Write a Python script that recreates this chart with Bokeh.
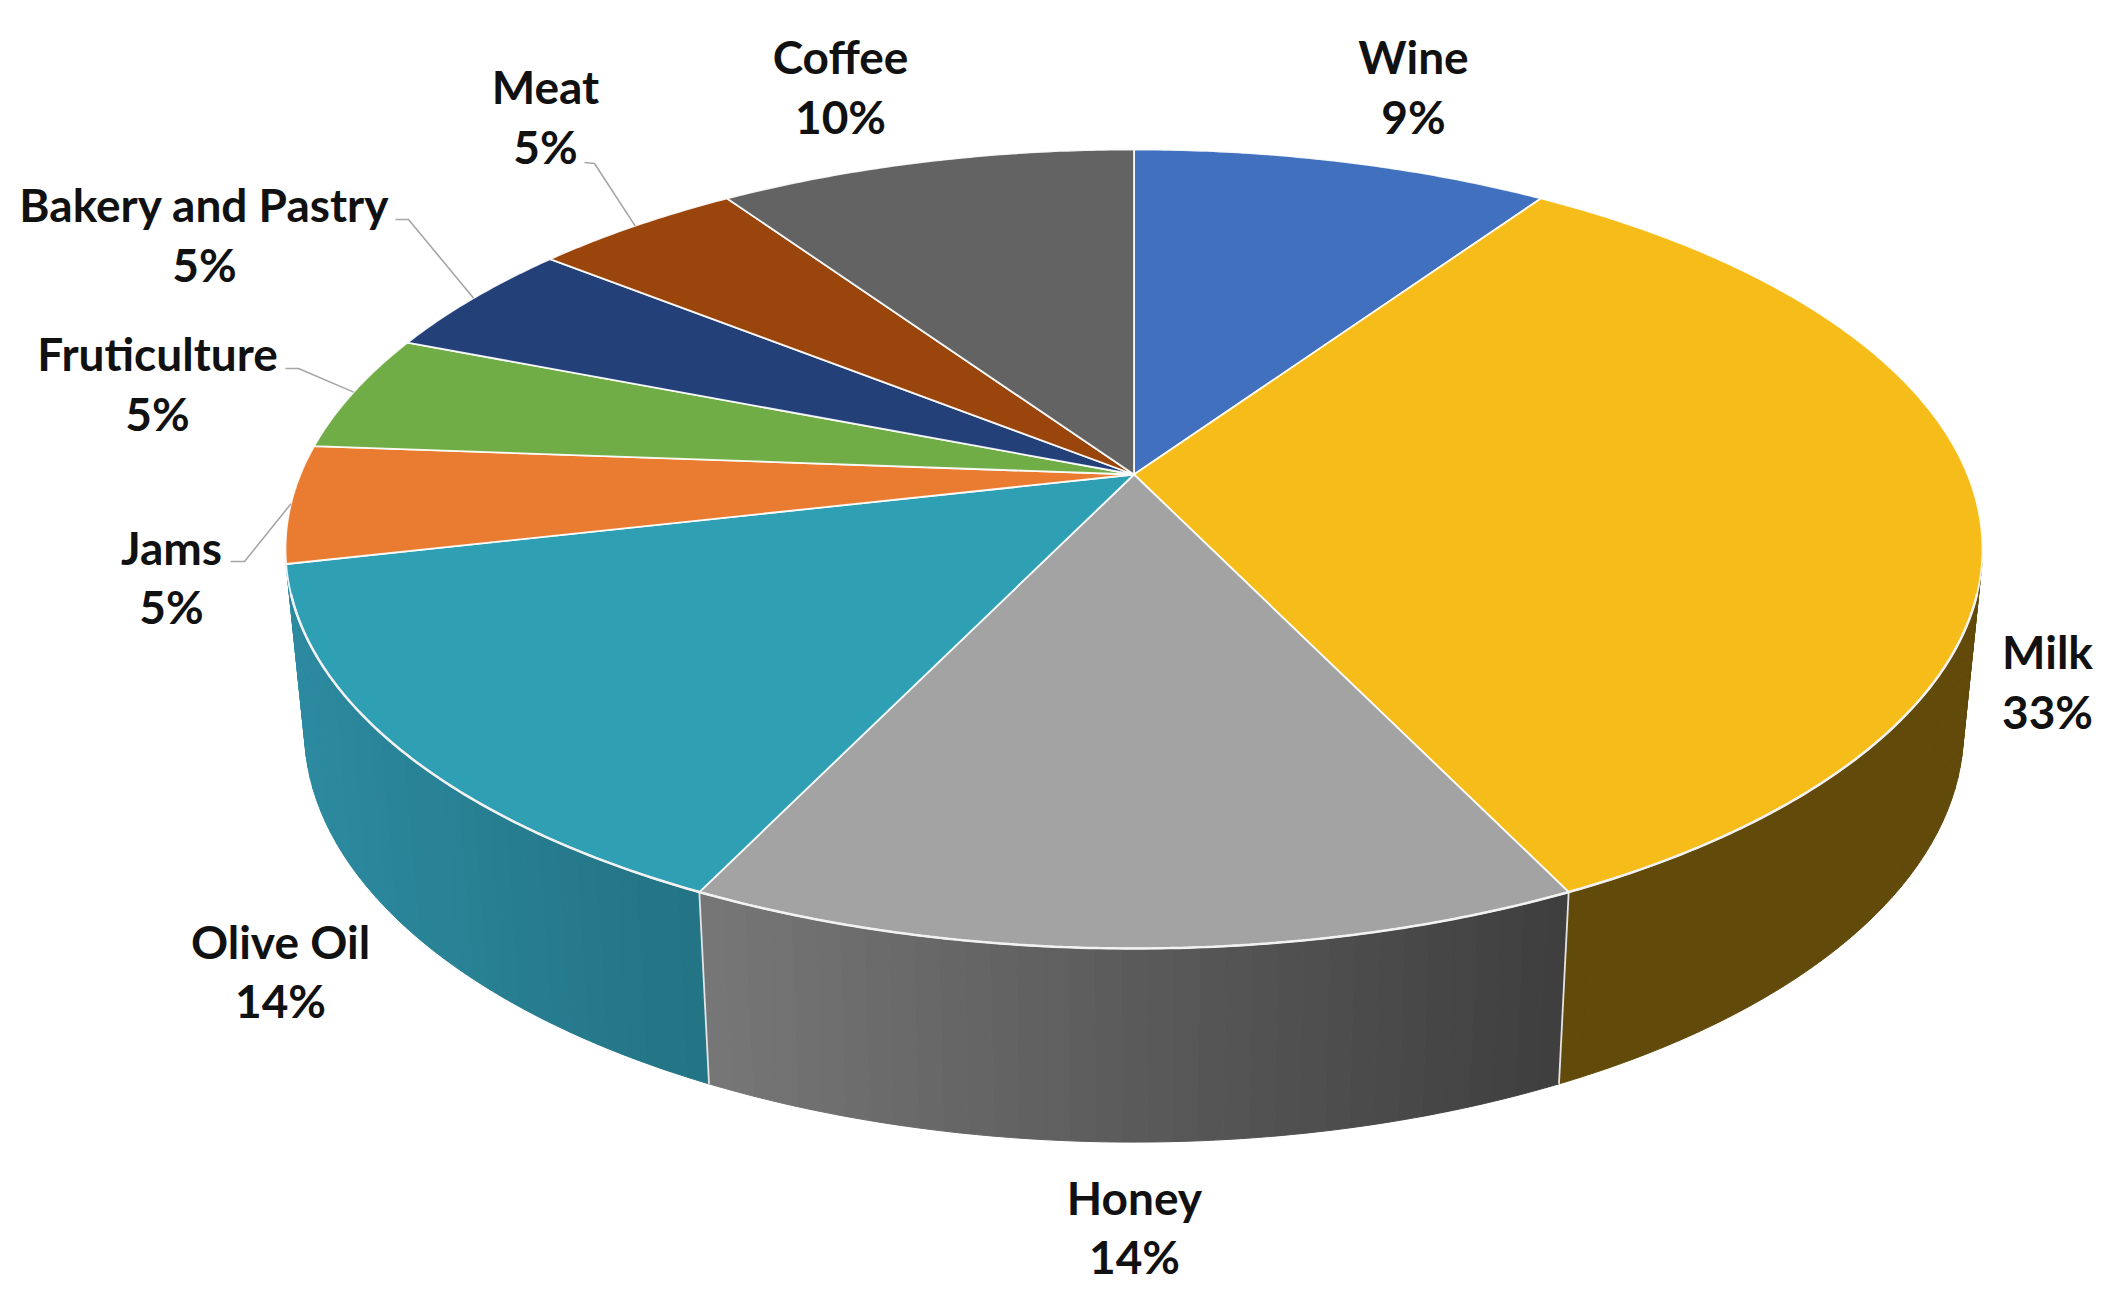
import math
from bokeh.plotting import figure
from bokeh.models import Range1d
from bokeh.core.properties import value
from bokeh.embed import file_html
from bokeh.resources import INLINE

# ---- data (shares are clockwise from 12 o'clock)
categories = ["Wine", "Milk", "Honey", "Olive Oil", "Jams", "Fruticulture",
              "Bakery and Pastry", "Meat", "Coffee"]
shares = [2, 7, 3, 3, 1, 1, 1, 1, 2]
percent_labels = ["9%", "33%", "14%", "14%", "5%", "5%", "5%", "5%", "10%"]
top_colors = ["#4170bf", "#f6bd1a", "#a3a3a3", "#2f9fb4", "#e97c30",
              "#70ad47", "#234178", "#99450c", "#636363"]

# ---- side-wall shading: slice -> (colour at its left end, colour at its right end)
side_shades = {"Milk": ("#624a0a", "#624a0a"),
               "Honey": ("#777777", "#3e3e3e"),
               "Olive Oil": ("#2c8aa0", "#237383")}

# ---- label layout (reference pixels: centre x, centre y of first and second line)
label_layout = {"Wine": (1413, 56, 116), "Milk": (2047, 651, 711),
                "Honey": (1134, 1197, 1256), "Olive Oil": (280, 941, 1000),
                "Jams": (171, 547, 606), "Fruticulture": (157, 353, 413),
                "Bakery and Pastry": (204, 204, 264), "Meat": (545, 86, 146),
                "Coffee": (840, 56, 116)}
leader_start = {"Meat": [(584, 162), (594, 163)],
                "Bakery and Pastry": [(395, 219), (408, 219)],
                "Fruticulture": [(285, 368), (298, 368)],
                "Jams": [(230, 561), (244, 561)]}

# ---- perspective projection of the disc
X0, K = 1133.5, 0.1864
TOP = dict(y0=474.0, a=833.6, b=385.6)
LOW = dict(y0=652.4, a=815.0, b=398.0)


def project(theta, plane):
    u, v = math.sin(theta), math.cos(theta)
    w = 1 + K * v
    return X0 + plane["a"] * u / w, plane["y0"] - plane["b"] * v / w


def arc(t0, t1, plane, step=math.radians(0.5)):
    n = max(2, int(abs(t1 - t0) / step) + 1)
    return [project(t0 + (t1 - t0) * i / n, plane) for i in range(n + 1)]


def lerp_hex(c0, c1, f):
    a = [int(c0[i:i + 2], 16) for i in (1, 3, 5)]
    b = [int(c1[i:i + 2], 16) for i in (1, 3, 5)]
    return "#%02x%02x%02x" % tuple(round(p + (q - p) * f) for p, q in zip(a, b))


total = sum(shares)
edges = [0.0]
for s in shares:
    edges.append(edges[-1] + 2 * math.pi * s / total)
span = {c: (edges[i], edges[i + 1]) for i, c in enumerate(categories)}

p = figure(width=2108, height=1286, x_range=Range1d(0, 2108), y_range=Range1d(1286, 0),
           x_axis_type=None, y_axis_type=None, toolbar_location=None,
           output_backend="svg", min_border=0, outline_line_color=None,
           background_fill_color="white", border_fill_color="white")
p.grid.visible = False

# side walls, split into thin strips so that the shade changes along the rim
xs, ys, fills = [], [], []
for name, (c_left, c_right) in side_shades.items():
    t0, t1 = span[name]
    t0 = max(t0, math.radians(100))
    if name == "Olive Oil":          # the wall keeps this colour up to the silhouette
        t1 = math.radians(260)
    n = int(math.degrees(t1 - t0) / 1.5) + 1
    x_a, x_b = project(t0, LOW)[0], project(t1, LOW)[0]
    for i in range(n):
        a, b = t0 + (t1 - t0) * i / n, t0 + (t1 - t0) * (i + 1) / n
        up = arc(a, b, TOP)
        lo = arc(a, b, LOW)
        pts = up + lo[::-1]
        xs.append([q[0] for q in pts])
        ys.append([q[1] for q in pts])
        f = (project(0.5 * (a + b), LOW)[0] - x_a) / (x_b - x_a)
        # colour runs from screen-left to screen-right
        fills.append(lerp_hex(c_right, c_left, min(1, f)))
p.patches(xs, ys, fill_color=fills, line_color=fills, line_width=1)

# seams between the walls
for name in ["Honey", "Olive Oil"]:
    t = span[name][0]
    a, b = project(t, TOP), project(t, LOW)
    p.line([a[0], b[0]], [a[1], b[1]], line_color="#e4e4e4", line_width=1.8)

# top surface
xs, ys = [], []
for c in categories:
    t0, t1 = span[c]
    pts = [(X0, TOP["y0"])] + arc(t0, t1, TOP)
    xs.append([q[0] for q in pts])
    ys.append([q[1] for q in pts])
p.patches(xs, ys, fill_color=top_colors, line_color="white", line_width=1.8, line_alpha=0.9)

# light rim along the front of the disc
rim = arc(math.radians(107), math.radians(253), TOP)
p.line([q[0] for q in rim], [q[1] for q in rim], line_color="#f2f2f2", line_width=2.5)

# leader lines end on the rim at the middle of their slice
for name, start in leader_start.items():
    t0, t1 = span[name]
    end = project(0.5 * (t0 + t1), TOP)
    pts = start + [end]
    p.line([q[0] for q in pts], [q[1] for q in pts], line_color="#a6a6a6", line_width=1.6)

# labels
lx, ly, lt = [], [], []
for c, pct in zip(categories, percent_labels):
    x, y1, y2 = label_layout[c]
    lx += [x, x]
    ly += [y1, y2]
    lt += [c, pct]
p.text(x=lx, y=ly, text=lt, text_font=value("Lato"), text_font_style="bold",
       text_font_size="46px", text_color="#111111",
       text_align="center", text_baseline="middle")

open("out.html", "w").write(file_html(p, INLINE))
